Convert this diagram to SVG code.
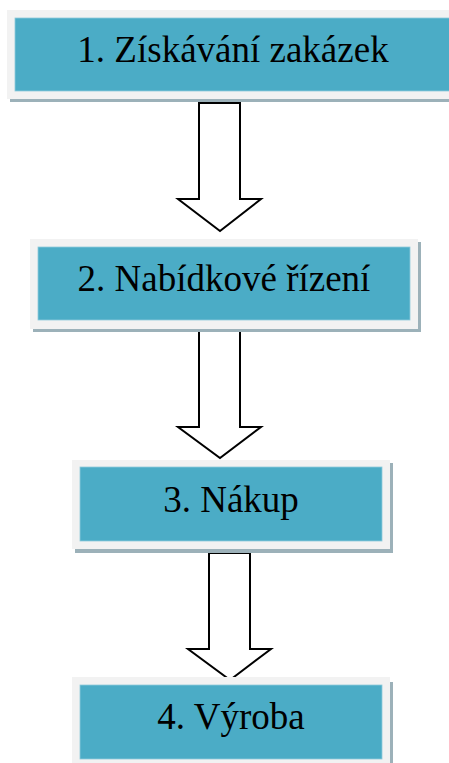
<svg xmlns="http://www.w3.org/2000/svg" width="449" height="763" viewBox="0 0 449 763">
<style>
.shadow{fill:#9cb1b9}
.outer{fill:#f2f2f2}
.inner{fill:#4bacc6;stroke:#8fcadb;stroke-width:0.8}
.label{font-family:"Liberation Serif","Times New Roman",serif;font-size:37px;fill:#000;text-anchor:middle}
.arrow{fill:#fff;stroke:#000;stroke-width:2;stroke-linejoin:miter}
</style>
<rect width="449" height="763" fill="#fff"/>
<g id="connectors">
<polygon class="arrow" points="199,103 240,103 240,199 261,199 220,231 178,199 199,199"/>
<polygon class="arrow" points="199,330 240,330 240,427 261,427 220,458 178,427 199,427"/>
<polygon class="arrow" points="209,553 250,553 250,649 271,649 230,680 188,649 209,649"/>
</g>
<g id="node1">
<rect class="shadow" x="10" y="13" width="450" height="89"/>
<rect class="outer" x="7" y="10" width="450" height="89"/>
<rect class="inner" x="15" y="18" width="440" height="73"/>
<text class="label" x="233" y="62">1. Získávání zakázek</text>
</g>
<g id="node2">
<rect class="shadow" x="33" y="242" width="388" height="90"/>
<rect class="outer" x="30" y="239" width="388" height="90"/>
<rect class="inner" x="38" y="247" width="372" height="73"/>
<text class="label" x="224" y="291">2. Nabídkové řízení</text>
</g>
<g id="node3">
<rect class="shadow" x="75" y="463" width="318" height="90"/>
<rect class="outer" x="72" y="460" width="318" height="89"/>
<rect class="inner" x="80" y="467" width="302" height="74"/>
<text class="label" x="231" y="512">3. Nákup</text>
</g>
<g id="node4">
<rect class="shadow" x="75" y="682" width="318" height="90"/>
<rect class="outer" x="72" y="677" width="318" height="90"/>
<rect class="inner" x="80" y="685" width="302" height="74"/>
<text class="label" x="231" y="729">4. Výroba</text>
</g>
</svg>
